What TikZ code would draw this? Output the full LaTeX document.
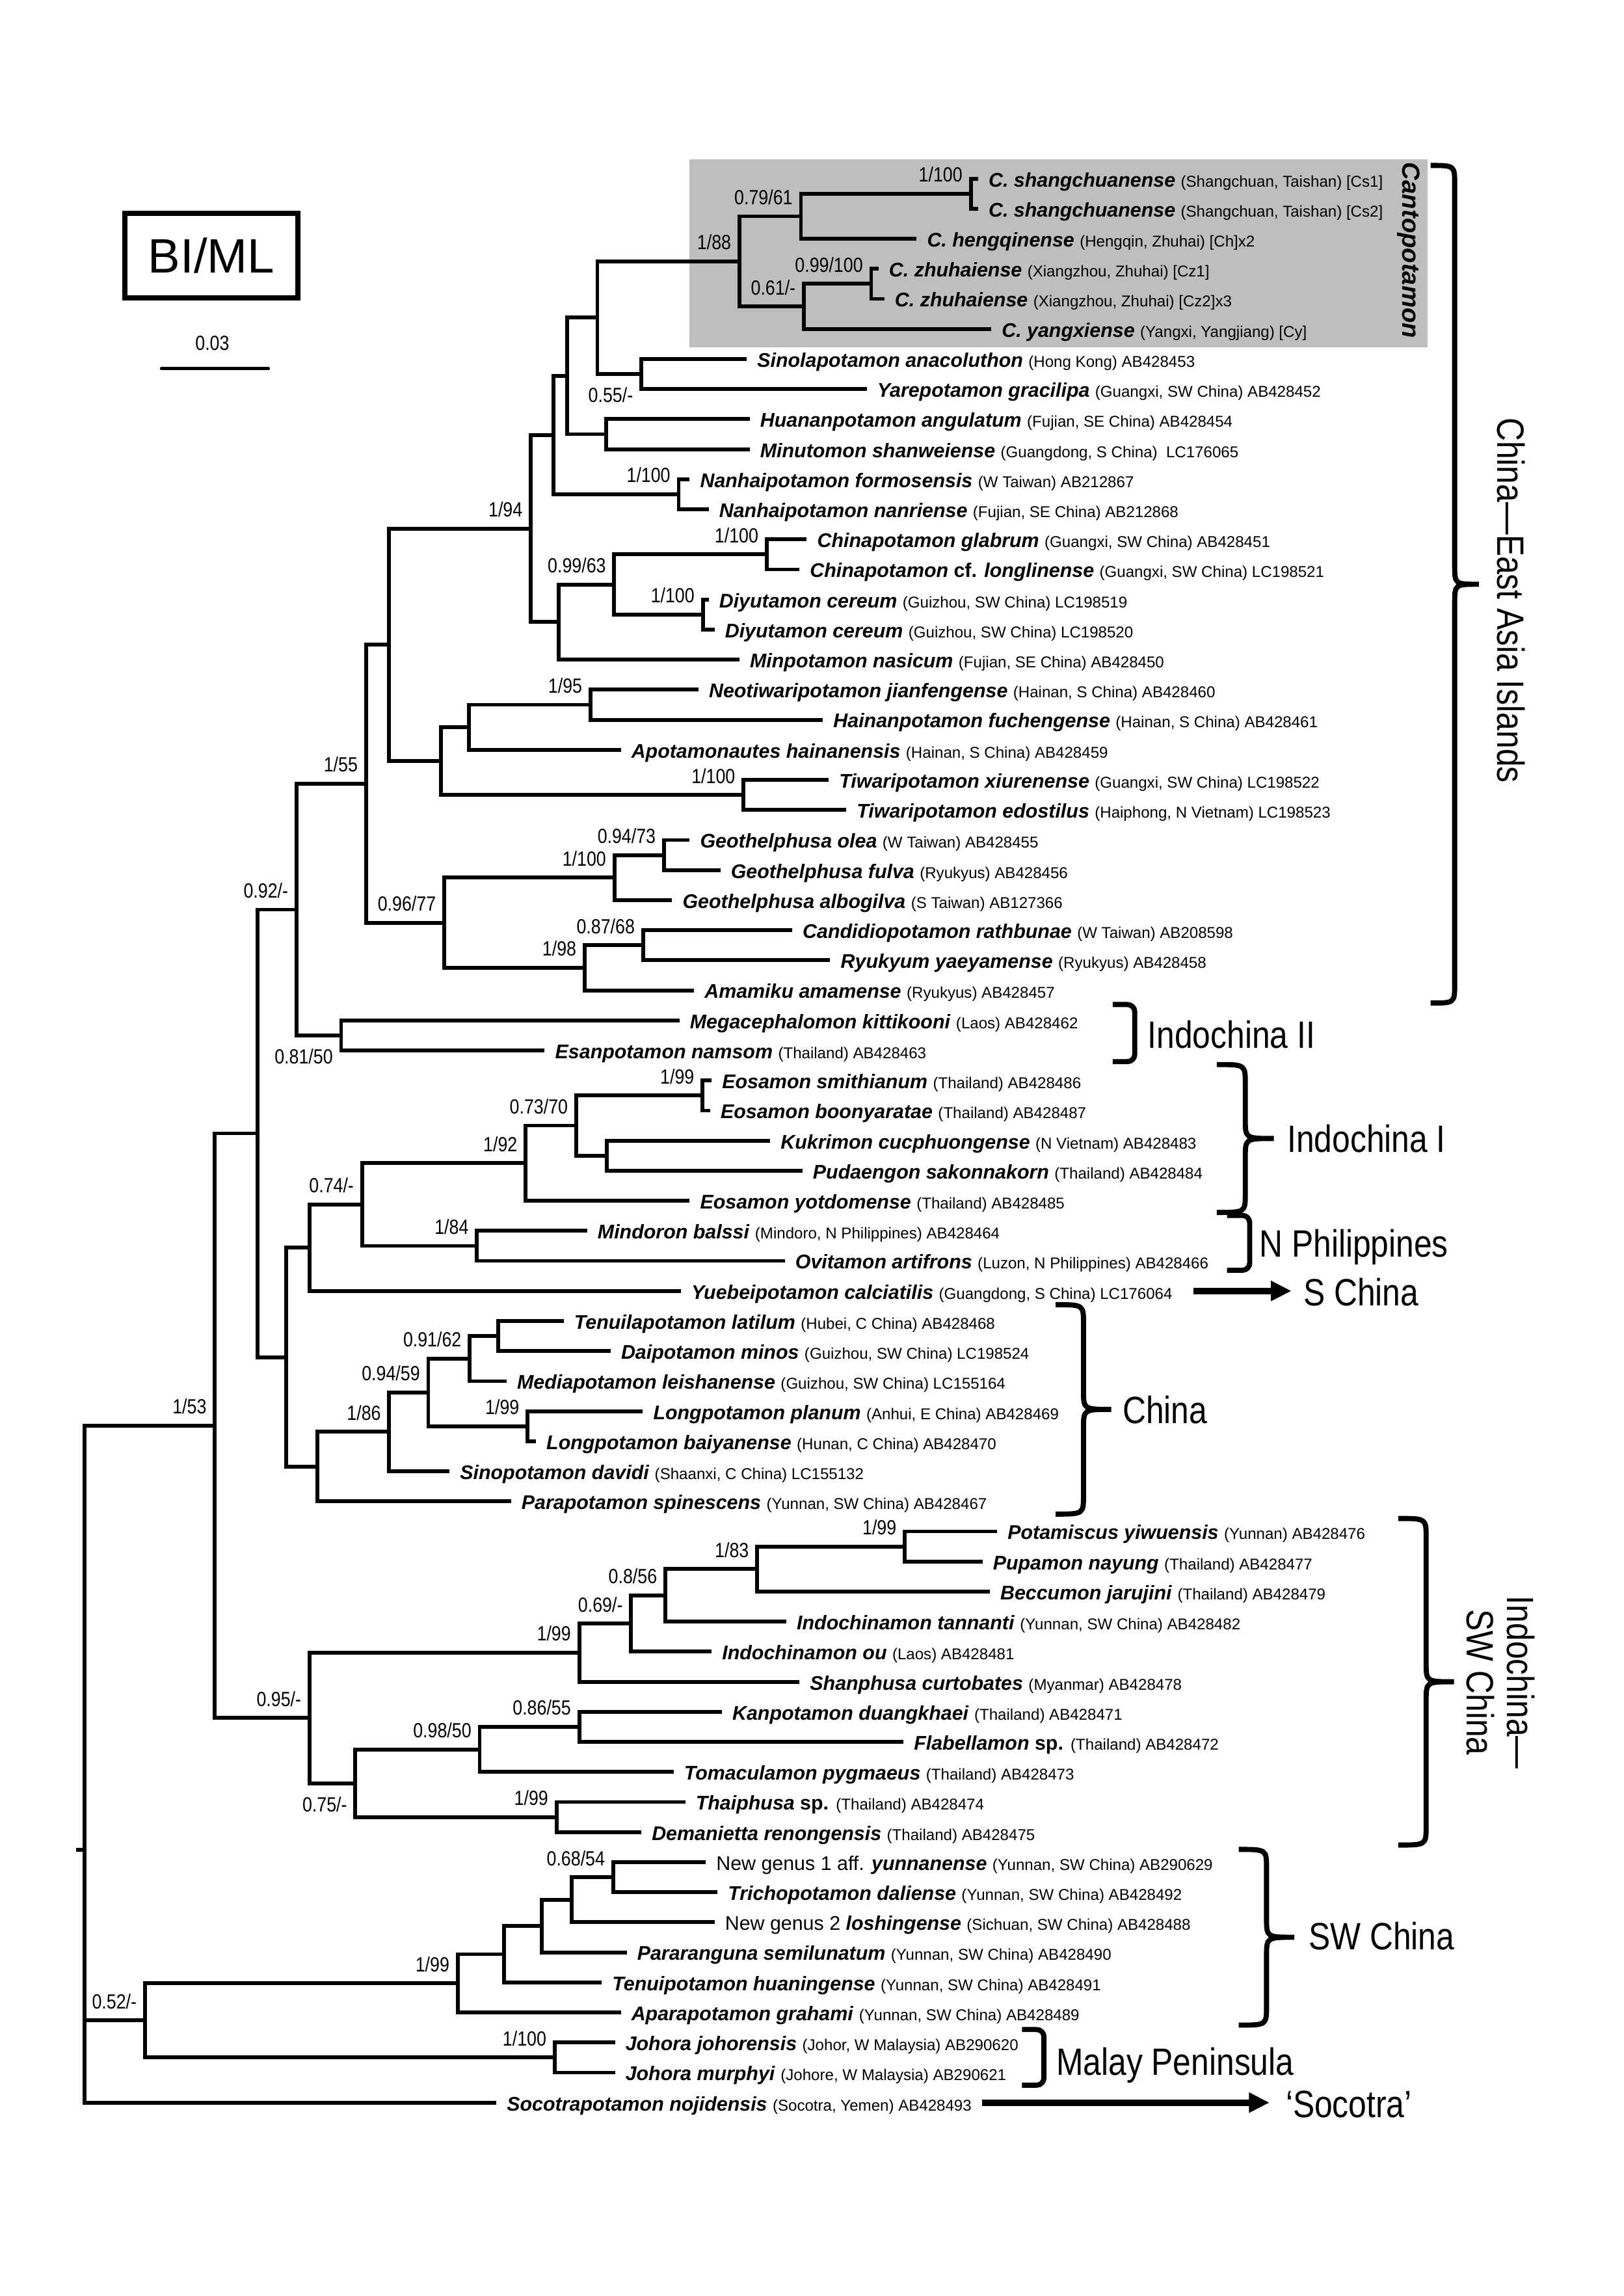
\documentclass[tikz,border=0pt]{standalone}
\usepackage{fontspec}
\setmainfont{Liberation Sans}
\newfontfamily\condfont{Liberation Sans}[FakeStretch=0.85]
\usepackage{tikz}
\usetikzlibrary{arrows.meta,calc}
\definecolor{CladeBG}{HTML}{BEBEBE}
% vertical position of taxon row (0 = first taxon)
\newcommand\rowy[1]{122+20.53*#1}
\newcommand\tname[1]{\textbf{\textit{#1}}}
\newcommand\tloc[1]{{\fontsize{10.7}{12}\selectfont #1}}
\newcommand\taxonleaf[4]{%
  \coordinate (#1) at (#2,\rowy{#3});
  \node[taxon] (#1lab) at (#1) {#4};}
\newcommand\regionbrace[4]{%
  \draw[regionline] (#1,#2) .. controls (#1+0.5*#4,#2) .. (#1+0.5*#4,#2+13)
    -- (#1+0.5*#4,#2/2+#3/2-13) .. controls (#1+0.5*#4,#2/2+#3/2) .. (#1+#4,#2/2+#3/2)
    .. controls (#1+0.5*#4,#2/2+#3/2) .. (#1+0.5*#4,#2/2+#3/2+13)
    -- (#1+0.5*#4,#3-13) .. controls (#1+0.5*#4,#3) .. (#1,#3);}

\begin{document}
\begin{tikzpicture}[
  x=1pt,y=-1pt,
  branch/.style={line width=2.6pt},
  taxon/.style={anchor=base west,inner sep=0pt,xshift=7pt,yshift=-5.5pt,
    font=\fontsize{13.5}{16}\selectfont},
  sup/.style={inner sep=0pt,font=\condfont\fontsize{14}{16}\selectfont},
  supa/.style={sup,anchor=base east,xshift=-5.5pt,yshift=8pt},
  supb/.style={sup,anchor=north east,xshift=-5.5pt,yshift=-9pt},
  region/.style={inner sep=0pt,anchor=base west,font=\condfont\fontsize{26}{28}\selectfont},
  regionline/.style={line width=3.5pt},
  bigarrow/.style={line width=4.4pt,-{Triangle[length=14pt,width=13pt]}}
]
\useasboundingbox[fill=white] (0,0) rectangle (1109,1568);

% Cantopotamon box
\fill[CladeBG] (471,109) rectangle (975,237);
\node[rotate=-90,inner sep=0pt,font=\fontsize{17}{19}\selectfont\bfseries\itshape] (cantolab) at (962,171) {Cantopotamon};

% legend
\node[draw,line width=3.5pt,minimum width=118pt,minimum height=57.5pt,inner sep=0pt,
  font=\fontsize{33}{36}\selectfont] (biml) at (144.3,174.6) {BI/ML};
\node[sup] (scalelab) at (145,234.5) {0.03};
\draw[line width=2pt,line cap=round] (110.2,251.7) -- (183.4,251.7);

% taxa
\taxonleaf{t0}{668}{0}{\tname{C. shangchuanense} \tloc{(Shangchuan, Taishan) [Cs1]}}
\taxonleaf{t1}{668}{1}{\tname{C. shangchuanense} \tloc{(Shangchuan, Taishan) [Cs2]}}
\taxonleaf{t2}{626}{2}{\tname{C. hengqinense} \tloc{(Hengqin, Zhuhai) [Ch]x2}}
\taxonleaf{t3}{600}{3}{\tname{C. zhuhaiense} \tloc{(Xiangzhou, Zhuhai) [Cz1]}}
\taxonleaf{t4}{604}{4}{\tname{C. zhuhaiense} \tloc{(Xiangzhou, Zhuhai) [Cz2]x3}}
\taxonleaf{t5}{677}{5}{\tname{C. yangxiense} \tloc{(Yangxi, Yangjiang) [Cy]}}
\taxonleaf{t6}{510}{6}{\tname{Sinolapotamon anacoluthon} \tloc{(Hong Kong) AB428453}}
\taxonleaf{t7}{592}{7}{\tname{Yarepotamon gracilipa} \tloc{(Guangxi, SW China) AB428452}}
\taxonleaf{t8}{512}{8}{\tname{Huananpotamon angulatum} \tloc{(Fujian, SE China) AB428454}}
\taxonleaf{t9}{512}{9}{\tname{Minutomon shanweiense} \tloc{(Guangdong, S China)~ LC176065}}
\taxonleaf{t10}{471}{10}{\tname{Nanhaipotamon formosensis} \tloc{(W Taiwan) AB212867}}
\taxonleaf{t11}{484}{11}{\tname{Nanhaipotamon nanriense} \tloc{(Fujian, SE China) AB212868}}
\taxonleaf{t12}{551}{12}{\tname{Chinapotamon glabrum} \tloc{(Guangxi, SW China) AB428451}}
\taxonleaf{t13}{546}{13}{\tname{Chinapotamon} \textbf{cf.} \tname{longlinense} \tloc{(Guangxi, SW China) LC198521}}
\taxonleaf{t14}{484}{14}{\tname{Diyutamon cereum} \tloc{(Guizhou, SW China) LC198519}}
\taxonleaf{t15}{488}{15}{\tname{Diyutamon cereum} \tloc{(Guizhou, SW China) LC198520}}
\taxonleaf{t16}{505}{16}{\tname{Minpotamon nasicum} \tloc{(Fujian, SE China) AB428450}}
\taxonleaf{t17}{477}{17}{\tname{Neotiwaripotamon jianfengense} \tloc{(Hainan, S China) AB428460}}
\taxonleaf{t18}{562}{18}{\tname{Hainanpotamon fuchengense} \tloc{(Hainan, S China) AB428461}}
\taxonleaf{t19}{424}{19}{\tname{Apotamonautes hainanensis} \tloc{(Hainan, S China) AB428459}}
\taxonleaf{t20}{566}{20}{\tname{Tiwaripotamon xiurenense} \tloc{(Guangxi, SW China) LC198522}}
\taxonleaf{t21}{578}{21}{\tname{Tiwaripotamon edostilus} \tloc{(Haiphong, N Vietnam) LC198523}}
\taxonleaf{t22}{471}{22}{\tname{Geothelphusa olea} \tloc{(W Taiwan) AB428455}}
\taxonleaf{t23}{492}{23}{\tname{Geothelphusa fulva} \tloc{(Ryukyus) AB428456}}
\taxonleaf{t24}{459}{24}{\tname{Geothelphusa albogilva} \tloc{(S Taiwan) AB127366}}
\taxonleaf{t25}{541}{25}{\tname{Candidiopotamon rathbunae} \tloc{(W Taiwan) AB208598}}
\taxonleaf{t26}{567}{26}{\tname{Ryukyum yaeyamense} \tloc{(Ryukyus) AB428458}}
\taxonleaf{t27}{474}{27}{\tname{Amamiku amamense} \tloc{(Ryukyus) AB428457}}
\taxonleaf{t28}{464}{28}{\tname{Megacephalomon kittikooni} \tloc{(Laos) AB428462}}
\taxonleaf{t29}{372}{29}{\tname{Esanpotamon namsom} \tloc{(Thailand) AB428463}}
\taxonleaf{t30}{486}{30}{\tname{Eosamon smithianum} \tloc{(Thailand) AB428486}}
\taxonleaf{t31}{485}{31}{\tname{Eosamon boonyaratae} \tloc{(Thailand) AB428487}}
\taxonleaf{t32}{526}{32}{\tname{Kukrimon cucphuongense} \tloc{(N Vietnam) AB428483}}
\taxonleaf{t33}{548}{33}{\tname{Pudaengon sakonnakorn} \tloc{(Thailand) AB428484}}
\taxonleaf{t34}{471}{34}{\tname{Eosamon yotdomense} \tloc{(Thailand) AB428485}}
\taxonleaf{t35}{401}{35}{\tname{Mindoron balssi} \tloc{(Mindoro, N Philippines) AB428464}}
\taxonleaf{t36}{536}{36}{\tname{Ovitamon artifrons} \tloc{(Luzon, N Philippines) AB428466}}
\taxonleaf{t37}{465}{37}{\tname{Yuebeipotamon calciatilis} \tloc{(Guangdong, S China) LC176064}}
\taxonleaf{t38}{385}{38}{\tname{Tenuilapotamon latilum} \tloc{(Hubei, C China) AB428468}}
\taxonleaf{t39}{417}{39}{\tname{Daipotamon minos} \tloc{(Guizhou, SW China) LC198524}}
\taxonleaf{t40}{346}{40}{\tname{Mediapotamon leishanense} \tloc{(Guizhou, SW China) LC155164}}
\taxonleaf{t41}{439}{41}{\tname{Longpotamon planum} \tloc{(Anhui, E China) AB428469}}
\taxonleaf{t42}{366}{42}{\tname{Longpotamon baiyanense} \tloc{(Hunan, C China) AB428470}}
\taxonleaf{t43}{307}{43}{\tname{Sinopotamon davidi} \tloc{(Shaanxi, C China) LC155132}}
\taxonleaf{t44}{349}{44}{\tname{Parapotamon spinescens} \tloc{(Yunnan, SW China) AB428467}}
\taxonleaf{t45}{681}{45}{\tname{Potamiscus yiwuensis} \tloc{(Yunnan) AB428476}}
\taxonleaf{t46}{671}{46}{\tname{Pupamon nayung} \tloc{(Thailand) AB428477}}
\taxonleaf{t47}{676}{47}{\tname{Beccumon jarujini} \tloc{(Thailand) AB428479}}
\taxonleaf{t48}{537}{48}{\tname{Indochinamon tannanti} \tloc{(Yunnan, SW China) AB428482}}
\taxonleaf{t49}{486}{49}{\tname{Indochinamon ou} \tloc{(Laos) AB428481}}
\taxonleaf{t50}{546}{50}{\tname{Shanphusa curtobates} \tloc{(Myanmar) AB428478}}
\taxonleaf{t51}{493}{51}{\tname{Kanpotamon duangkhaei} \tloc{(Thailand) AB428471}}
\taxonleaf{t52}{617}{52}{\tname{Flabellamon} \textbf{sp.} \tloc{(Thailand) AB428472}}
\taxonleaf{t53}{460}{53}{\tname{Tomaculamon pygmaeus} \tloc{(Thailand) AB428473}}
\taxonleaf{t54}{468}{54}{\tname{Thaiphusa} \textbf{sp.} \tloc{(Thailand) AB428474}}
\taxonleaf{t55}{438}{55}{\tname{Demanietta renongensis} \tloc{(Thailand) AB428475}}
\taxonleaf{t56}{482}{56}{New genus 1 aff. \tname{yunnanense} \tloc{(Yunnan, SW China) AB290629}}
\taxonleaf{t57}{490}{57}{\tname{Trichopotamon daliense} \tloc{(Yunnan, SW China) AB428492}}
\taxonleaf{t58}{488}{58}{New genus 2 \tname{loshingense} \tloc{(Sichuan, SW China) AB428488}}
\taxonleaf{t59}{428}{59}{\tname{Pararanguna semilunatum} \tloc{(Yunnan, SW China) AB428490}}
\taxonleaf{t60}{411}{60}{\tname{Tenuipotamon huaningense} \tloc{(Yunnan, SW China) AB428491}}
\taxonleaf{t61}{424}{61}{\tname{Aparapotamon grahami} \tloc{(Yunnan, SW China) AB428489}}
\taxonleaf{t62}{420}{62}{\tname{Johora johorensis} \tloc{(Johor, W Malaysia) AB290620}}
\taxonleaf{t63}{420}{63}{\tname{Johora murphyi} \tloc{(Johore, W Malaysia) AB290621}}
\taxonleaf{t64}{339}{64}{\tname{Socotrapotamon nojidensis} \tloc{(Socotra, Yemen) AB428493}}

% internal nodes
\coordinate (cs) at (663,\rowy{0.5});
\coordinate (csh) at (547,\rowy{1.25});
\coordinate (cz) at (595,\rowy{3.5});
\coordinate (czy) at (549,\rowy{4.25});
\coordinate (canto) at (505,\rowy{2.75});
\coordinate (sinyar) at (438,\rowy{6.5});
\coordinate (c408) at (408,\rowy{4.625});
\coordinate (huanmin) at (414,\rowy{8.5});
\coordinate (c387) at (387.5,\rowy{6.5625});
\coordinate (nanhai) at (463.5,\rowy{10.5});
\coordinate (c378) at (378,\rowy{8.53125});
\coordinate (chinap) at (523.6,\rowy{12.5});
\coordinate (diyu) at (480,\rowy{14.5});
\coordinate (c419) at (419.5,\rowy{13.5});
\coordinate (c381) at (381.5,\rowy{14.75});
\coordinate (c362) at (362.5,\rowy{11.640625});
\coordinate (hain) at (403.3,\rowy{17.5});
\coordinate (c320) at (320.3,\rowy{18.25});
\coordinate (tiwari) at (507.8,\rowy{20.5});
\coordinate (c301) at (301.2,\rowy{19.375});
\coordinate (cA) at (265.8,\rowy{15.5078});
\coordinate (geo94) at (453.5,\rowy{22.5});
\coordinate (geo100) at (419.6,\rowy{23.25});
\coordinate (cand) at (439.2,\rowy{25.5});
\coordinate (ryu) at (399.3,\rowy{26.25});
\coordinate (c096) at (303.4,\rowy{24.75});
\coordinate (c055) at (250,\rowy{20.1289});
\coordinate (c081) at (233,\rowy{28.5});
\coordinate (c092) at (202.5,\rowy{24.3145});
\coordinate (eos) at (479.8,\rowy{30.5});
\coordinate (kp) at (414.5,\rowy{32.5});
\coordinate (c073) at (393.5,\rowy{31.5});
\coordinate (c192) at (359,\rowy{32.75});
\coordinate (c184) at (325.7,\rowy{35.5});
\coordinate (c074) at (247.3,\rowy{34.125});
\coordinate (c211) at (211.4,\rowy{35.5625});
\coordinate (td) at (340.1,\rowy{38.5});
\coordinate (c9162) at (320.8,\rowy{39.25});
\coordinate (long) at (360.3,\rowy{41.5});
\coordinate (c9459) at (292.5,\rowy{40.375});
\coordinate (c186) at (265.8,\rowy{41.6875});
\coordinate (c217) at (216.9,\rowy{42.84375});
\coordinate (c195) at (195.6,\rowy{39.2031});
\coordinate (cD) at (175.8,\rowy{31.7588});
\coordinate (pot) at (617.9,\rowy{45.5});
\coordinate (c183) at (517.1,\rowy{46.25});
\coordinate (c0856) at (454.4,\rowy{47.125});
\coordinate (c069) at (431,\rowy{48.0625});
\coordinate (c199) at (395.6,\rowy{49.03125});
\coordinate (c086) at (395.6,\rowy{51.5});
\coordinate (c098) at (327.6,\rowy{52.25});
\coordinate (thai) at (380.1,\rowy{54.5});
\coordinate (c075) at (242.7,\rowy{53.375});
\coordinate (c095) at (211.4,\rowy{51.2031});
\coordinate (c153) at (146.7,\rowy{41.481});
\coordinate (s3) at (418.8,\rowy{56.5});
\coordinate (s068) at (390.5,\rowy{57.25});
\coordinate (s2) at (370,\rowy{58.125});
\coordinate (s1) at (344.2,\rowy{59.0625});
\coordinate (sw99) at (312.6,\rowy{60.03125});
\coordinate (joh) at (378.8,\rowy{62.5});
\coordinate (c052) at (99,\rowy{61.2656});
\coordinate (root) at (57.7,\rowy{55.5822});
\coordinate (rootstub) at (52,\rowy{55.5822});

% branches
\draw[branch] (root) -- (rootstub);
\draw[branch] (root) |- (c153) (root) |- (c052) (root) |- (t64);
\draw[branch] (c153) |- (cD) (c153) |- (c095);
\draw[branch] (cD) |- (c092) (cD) |- (c195);
\draw[branch] (c092) |- (c055) (c092) |- (c081);
\draw[branch] (c055) |- (cA) (c055) |- (c096);
\draw[branch] (cA) |- (c362) (cA) |- (c301);
\draw[branch] (c362) |- (c378) (c362) |- (c381);
\draw[branch] (c378) |- (c387) (c378) |- (nanhai);
\draw[branch] (c387) |- (c408) (c387) |- (huanmin);
\draw[branch] (c408) |- (canto) (c408) |- (sinyar);
\draw[branch] (canto) |- (csh) (canto) |- (czy);
\draw[branch] (csh) |- (cs) (csh) |- (t2);
\draw[branch] (cs) |- (t0) (cs) |- (t1);
\draw[branch] (czy) |- (cz) (czy) |- (t5);
\draw[branch] (cz) |- (t3) (cz) |- (t4);
\draw[branch] (sinyar) |- (t6) (sinyar) |- (t7);
\draw[branch] (huanmin) |- (t8) (huanmin) |- (t9);
\draw[branch] (nanhai) |- (t10) (nanhai) |- (t11);
\draw[branch] (c381) |- (c419) (c381) |- (t16);
\draw[branch] (c419) |- (chinap) (c419) |- (diyu);
\draw[branch] (chinap) |- (t12) (chinap) |- (t13);
\draw[branch] (diyu) |- (t14) (diyu) |- (t15);
\draw[branch] (c301) |- (c320) (c301) |- (tiwari);
\draw[branch] (c320) |- (hain) (c320) |- (t19);
\draw[branch] (hain) |- (t17) (hain) |- (t18);
\draw[branch] (tiwari) |- (t20) (tiwari) |- (t21);
\draw[branch] (c096) |- (geo100) (c096) |- (ryu);
\draw[branch] (geo100) |- (geo94) (geo100) |- (t24);
\draw[branch] (geo94) |- (t22) (geo94) |- (t23);
\draw[branch] (ryu) |- (cand) (ryu) |- (t27);
\draw[branch] (cand) |- (t25) (cand) |- (t26);
\draw[branch] (c081) |- (t28) (c081) |- (t29);
\draw[branch] (c195) |- (c211) (c195) |- (c217);
\draw[branch] (c211) |- (c074) (c211) |- (t37);
\draw[branch] (c074) |- (c192) (c074) |- (c184);
\draw[branch] (c192) |- (c073) (c192) |- (t34);
\draw[branch] (c073) |- (eos) (c073) |- (kp);
\draw[branch] (eos) |- (t30) (eos) |- (t31);
\draw[branch] (kp) |- (t32) (kp) |- (t33);
\draw[branch] (c184) |- (t35) (c184) |- (t36);
\draw[branch] (c217) |- (c186) (c217) |- (t44);
\draw[branch] (c186) |- (c9459) (c186) |- (t43);
\draw[branch] (c9459) |- (c9162) (c9459) |- (long);
\draw[branch] (c9162) |- (td) (c9162) |- (t40);
\draw[branch] (td) |- (t38) (td) |- (t39);
\draw[branch] (long) |- (t41) (long) |- (t42);
\draw[branch] (c095) |- (c199) (c095) |- (c075);
\draw[branch] (c199) |- (c069) (c199) |- (t50);
\draw[branch] (c069) |- (c0856) (c069) |- (t49);
\draw[branch] (c0856) |- (c183) (c0856) |- (t48);
\draw[branch] (c183) |- (pot) (c183) |- (t47);
\draw[branch] (pot) |- (t45) (pot) |- (t46);
\draw[branch] (c075) |- (c098) (c075) |- (thai);
\draw[branch] (c098) |- (c086) (c098) |- (t53);
\draw[branch] (c086) |- (t51) (c086) |- (t52);
\draw[branch] (thai) |- (t54) (thai) |- (t55);
\draw[branch] (c052) |- (sw99) (c052) |- (joh);
\draw[branch] (sw99) |- (s1) (sw99) |- (t61);
\draw[branch] (s1) |- (s2) (s1) |- (t60);
\draw[branch] (s2) |- (s068) (s2) |- (t59);
\draw[branch] (s068) |- (s3) (s068) |- (t58);
\draw[branch] (s3) |- (t56) (s3) |- (t57);
\draw[branch] (joh) |- (t62) (joh) |- (t63);

% support values (BI/ML)
\node[supa] (bs-cs) at (cs) {1/100};
\node[supa] (bs-csh) at (csh) {0.79/61};
\node[supa] (bs-canto) at (canto) {1/88};
\node[supa] (bs-cz) at (cz) {0.99/100};
\node[supa] (bs-czy) at (czy) {0.61/-};
\node[supb] (bs-sinyar) at (sinyar) {0.55/-};
\node[supa] (bs-nanhai) at (nanhai) {1/100};
\node[supa] (bs-c362) at (c362) {1/94};
\node[supa] (bs-c419) at (c419) {0.99/63};
\node[supa] (bs-chinap) at (chinap) {1/100};
\node[supa] (bs-diyu) at (diyu) {1/100};
\node[supa] (bs-hain) at (hain) {1/95};
\node[supa] (bs-tiwari) at (tiwari) {1/100};
\node[supa] (bs-c055) at (c055) {1/55};
\node[supa] (bs-geo94) at (geo94) {0.94/73};
\node[supa] (bs-geo100) at (geo100) {1/100};
\node[supa] (bs-c096) at (c096) {0.96/77};
\node[supa] (bs-cand) at (cand) {0.87/68};
\node[supa] (bs-ryu) at (ryu) {1/98};
\node[supa] (bs-c092) at (c092) {0.92/-};
\node[supb] (bs-c081) at (c081) {0.81/50};
\node[supa] (bs-eos) at (eos) {1/99};
\node[supa] (bs-c073) at (c073) {0.73/70};
\node[supa] (bs-c192) at (c192) {1/92};
\node[supa] (bs-c074) at (c074) {0.74/-};
\node[supa] (bs-c184) at (c184) {1/84};
\node[supa] (bs-c9162) at (c9162) {0.91/62};
\node[supa] (bs-c9459) at (c9459) {0.94/59};
\node[supa] (bs-c186) at (c186) {1/86};
\node[supa] (bs-long) at (long) {1/99};
\node[supa] (bs-c153) at (c153) {1/53};
\node[supa] (bs-pot) at (pot) {1/99};
\node[supa] (bs-c183) at (c183) {1/83};
\node[supa] (bs-c0856) at (c0856) {0.8/56};
\node[supa] (bs-c069) at (c069) {0.69/-};
\node[supa] (bs-c199) at (c199) {1/99};
\node[supa] (bs-c095) at (c095) {0.95/-};
\node[supa] (bs-c086) at (c086) {0.86/55};
\node[supa] (bs-c098) at (c098) {0.98/50};
\node[supb] (bs-c075) at (c075) {0.75/-};
\node[supa] (bs-thai) at (thai) {1/99};
\node[supa] (bs-s3) at (s3) {0.68/54};
\node[supa] (bs-sw99) at (sw99) {1/99};
\node[supa] (bs-joh) at (joh) {1/100};
\node[supa] (bs-c052) at (c052) {0.52/-};

% regions
\regionbrace{977}{113}{685}{33}
\node[region,anchor=center,rotate=-90] (eastasia) at (1032,410) {China—East Asia Islands};
\draw[regionline,rounded corners=5pt] (760,686) -- (775,686) -- (775,725) -- (760,725);
\node[region] (indoII) at (783.7,716) {Indochina II};
\regionbrace{831}{727}{828}{39}
\node[region] (indoI) at (879,787) {Indochina I};
\draw[regionline,rounded corners=5pt] (838,830) -- (853.5,830) -- (853.5,867.5) -- (838,867.5);
\node[region] (nphil) at (860,858.3) {N Philippines};
\node[region] (schina) at (890,891.9) {S China};
\draw[bigarrow,shorten <=14pt,shorten >=8pt] (t37 -| t37lab.east) -- (t37 -| schina.west);
\regionbrace{721}{891}{1034}{38}
\node[region] (china) at (766.6,971.9) {China};
\regionbrace{955}{1037}{1260}{38}
\node[region,anchor=center,rotate=-90,align=center,font=\condfont\fontsize{26}{27.5}\selectfont] (indoswc) at (1025,1149) {Indochina—\\SW China};
\regionbrace{846}{1263}{1383}{38}
\node[region] (swchina) at (893.6,1331.3) {SW China};
\draw[regionline,rounded corners=5pt] (698,1386) -- (713,1386) -- (713,1424) -- (698,1424);
\node[region] (malay) at (721.3,1417.3) {Malay Peninsula};
\node[region] (socotra) at (878,1446) {‘Socotra’};
\draw[bigarrow,shorten <=7pt,shorten >=11pt] (t64 -| t64lab.east) -- (t64 -| socotra.west);
\end{tikzpicture}
\end{document}
